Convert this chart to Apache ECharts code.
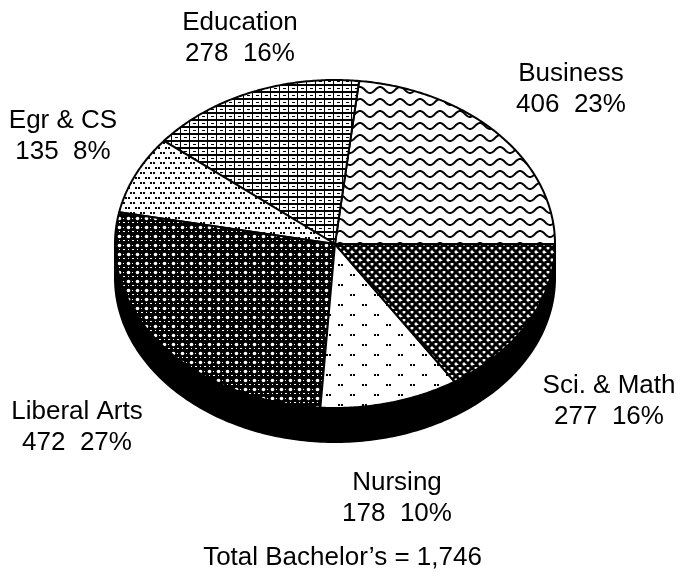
<!DOCTYPE html>
<html>
<head>
<meta charset="utf-8">
<script src="https://cdn.jsdelivr.net/npm/echarts@6/dist/echarts.min.js"></script>
<style>
html, body { margin: 0; padding: 0; background: #fff; }
#main { width: 685px; height: 585px; }
</style>
</head>
<body>
<div id="main"></div>
<script>
// slices, counter-clockwise from 3 o'clock
var names = ['Business', 'Education', 'Egr & CS', 'Liberal Arts', 'Nursing', 'Sci. & Math'];
var values = [406, 278, 135, 472, 178, 277];
var titleLabel = 'Total Bachelor\u2019s = ';

// label centres (px)
var labelPos = [[571, 89], [240, 38], [63, 136], [77, 427], [397, 498], [609, 401]];

// elliptical pie geometry
var cx = 335, cy = 244, rx = 220, ry = 164, depth = 34;
var font = 'Liberation Sans, Arial, sans-serif';

var total = 0;
for (var i = 0; i < values.length; i++) total += values[i];
var cum = [0];
for (var i = 0; i < values.length; i++) cum.push(cum[i] + values[i]);

function makePattern(w, h, bg, draw) {
    var c = document.createElement('canvas');
    c.width = w; c.height = h;
    var g = c.getContext('2d');
    g.fillStyle = bg; g.fillRect(0, 0, w, h);
    g.fillStyle = '#000'; g.strokeStyle = '#000';
    draw(g, w, h);
    return {image: c, repeat: 'repeat'};
}

var patterns = [
    // Business: wavy lines
    makePattern(20, 12, '#fff', function (g) {
        g.lineWidth = 2;
        g.beginPath();
        for (var x = -1; x <= 21; x += 0.5) {
            var y = 6 - 3 * Math.cos(2 * Math.PI * x / 20);
            if (x === -1) g.moveTo(x, y); else g.lineTo(x, y);
        }
        g.stroke();
    }),
    // Education: grid with dashes
    makePattern(9, 7, '#fff', function (g) {
        g.fillRect(0, 0, 1, 7);
        g.fillRect(0, 0, 9, 2);
        g.fillRect(4, 4, 3, 1);
    }),
    // Egr & CS: dense dots
    makePattern(10, 10, '#fff', function (g) {
        g.fillRect(0, 2, 2, 2); g.fillRect(3, 2, 2, 2);
        g.fillRect(5, 7, 2, 2); g.fillRect(8, 7, 2, 2);
    }),
    // Liberal Arts: dark lattice
    makePattern(9, 9, '#000', function (g) {
        g.fillStyle = '#fff';
        g.beginPath(); g.arc(2.5, 2.5, 1.8, 0, Math.PI * 2); g.fill();
        g.fillRect(6, 6, 2, 1);
        g.fillRect(6, 2, 1, 1);
        g.fillRect(2, 6, 1, 1);
    }),
    // Nursing: sparse dot pairs
    makePattern(24, 20, '#fff', function (g) {
        g.fillRect(2, 4, 2, 2); g.fillRect(5, 4, 2, 2);
        g.fillRect(14, 14, 2, 2); g.fillRect(17, 14, 2, 2);
    }),
    // Sci. & Math: dense diagonal crosshatch
    makePattern(8, 8, '#fff', function (g) {
        g.lineWidth = 3;
        g.beginPath();
        for (var k = -1; k <= 1; k++) {
            g.moveTo(k * 8, 0); g.lineTo(k * 8 + 8, 8);
            g.moveTo(k * 8 + 8, 0); g.lineTo(k * 8, 8);
        }
        g.stroke();
    })
];

function ellPt(a, dy) {
    return [cx + rx * Math.cos(a), cy - ry * Math.sin(a) + (dy || 0)];
}

function renderSlice(params, api) {
    var idx = params.dataIndex;
    var a0 = cum[idx] / total * Math.PI * 2;
    var a1 = a0 + api.value(0) / total * Math.PI * 2;
    var pts = [[cx, cy]];
    var n = Math.max(4, Math.ceil((a1 - a0) / 0.01));
    for (var i = 0; i <= n; i++) pts.push(ellPt(a0 + (a1 - a0) * i / n));
    var pct = Math.round(api.value(0) / total * 100);
    return {
        type: 'group',
        children: [{
            type: 'polygon',
            shape: {points: pts},
            style: {fill: patterns[idx], stroke: '#000', lineWidth: 2, lineJoin: 'round'}
        }, {
            type: 'text',
            x: labelPos[idx][0],
            y: labelPos[idx][1],
            style: {
                text: names[idx] + '\n' + api.value(0) + '  ' + pct + '%',
                fill: '#000',
                fontSize: 26,
                fontFamily: font,
                lineHeight: 31,
                align: 'center',
                verticalAlign: 'middle'
            }
        }]
    };
}

function renderSide(params, api) {
    var pts = [];
    var n = 200;
    for (var i = 0; i <= n; i++) pts.push(ellPt(Math.PI + Math.PI * i / n));
    for (var i = n; i >= 0; i--) pts.push(ellPt(Math.PI + Math.PI * i / n, depth));
    return {
        type: 'polygon',
        shape: {points: pts},
        style: {fill: '#000', stroke: '#000', lineWidth: 2}
    };
}

var myChart = echarts.init(document.getElementById('main'));
var option = {
    animation: false,
    backgroundColor: '#fff',
    title: {
        text: titleLabel + total.toLocaleString('en-US'),
        left: 'center',
        top: 540,
        textStyle: {fontSize: 26, fontWeight: 'normal', color: '#000', fontFamily: font}
    },
    series: [
        {
            type: 'custom',
            coordinateSystem: 'none',
            z: 1,
            silent: true,
            data: [0],
            renderItem: renderSide
        },
        {
            type: 'custom',
            coordinateSystem: 'none',
            z: 2,
            silent: true,
            data: values,
            renderItem: renderSlice
        }
    ]
};
myChart.setOption(option);
</script>
</body>
</html>
